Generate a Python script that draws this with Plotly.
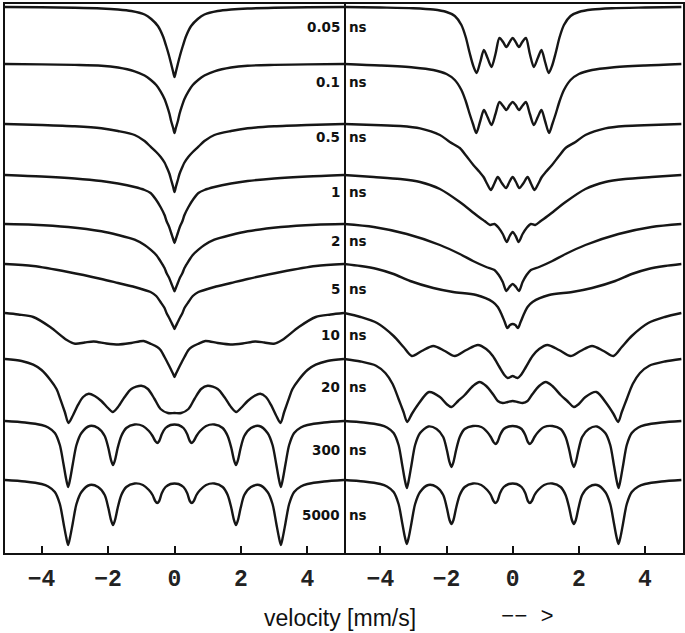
import plotly.graph_objects as go

# row labels (relaxation time) shared by both panels
TIMES = ["0.05", "0.1", "0.5", "1", "2", "5", "10", "20", "300", "5000"]
# baseline level of every row (arbitrary transmission units, stacked)
OFFSETS = [546, 489, 429, 378, 329, 289, 240, 194, 132, 73]
LABEL_Y = [526, 471, 416, 361, 312, 264, 218, 166, 103, 38]

# spectra are symmetric: velocity (mm/s) for v <= 0 and absorption depth
# ---- left panel ----
L_V = [
    [-5.1, -4, -3, -2.2, -1.7, -1.3, -0.9, -0.7, -0.5, -0.35, -0.25, -0.17, -0.1, -0.04, 0],
    [-5.1, -4, -3, -2.2, -1.7, -1.2, -0.9, -0.72, -0.55, -0.42, -0.3, -0.22, -0.15, -0.1, -0.04, 0],
    [-5.1, -4, -3, -2.2, -1.7, -1.2, -0.9, -0.72, -0.55, -0.42, -0.3, -0.22, -0.15, -0.1, -0.04, 0],
    [-5.1, -4, -3, -2.2, -1.7, -1.2, -0.9, -0.72, -0.57, -0.42, -0.3, -0.24, -0.16, -0.1, -0.04, 0],
    [-5.1, -4.25, -3.2, -2.2, -1.7, -1.2, -0.9, -0.72, -0.55, -0.42, -0.3, -0.24, -0.16, -0.1, -0.04, 0],
    [-5.1, -4.25, -3.2, -2.2, -1.7, -1.2, -0.9, -0.72, -0.55, -0.42, -0.3, -0.24, -0.16, -0.1, -0.04, 0],
    [-5.1, -4.7, -4.25, -3.74, -3.24, -2.99, -2.7, -2.43, -2.05, -1.68, -1.3, -0.93, -0.7, -0.52, -0.42,
     -0.3, -0.22, -0.1, -0.04, 0],
    [-5.1, -4.6, -4.25, -4.0, -3.74, -3.55, -3.43, -3.3, -3.19, -3.05, -2.9, -2.75, -2.58, -2.4, -2.2,
     -2.0, -1.86, -1.7, -1.5, -1.3, -1.0, -0.8, -0.6, -0.42, -0.2, 0],
    [-5.1, -4.5, -4.0, -3.8, -3.6, -3.45, -3.34, -3.26, -3.2, -3.14, -3.06, -2.95, -2.8, -2.55, -2.3,
     -2.1, -1.99, -1.91, -1.85, -1.79, -1.71, -1.6, -1.45, -1.2, -0.95, -0.77, -0.66, -0.58, -0.52,
     -0.46, -0.38, -0.27, -0.12, 0],
    [-5.1, -4.5, -4.0, -3.8, -3.6, -3.45, -3.34, -3.26, -3.2, -3.14, -3.06, -2.95, -2.8, -2.55, -2.3,
     -2.1, -1.99, -1.91, -1.85, -1.79, -1.71, -1.6, -1.45, -1.2, -0.95, -0.77, -0.66, -0.58, -0.52,
     -0.46, -0.38, -0.27, -0.12, 0],
]
L_D = [
    [0, 0.3, 0.8, 1.5, 2.5, 4, 7.5, 12, 19, 29, 39, 48, 57, 65, 70],
    [0, 0.4, 0.9, 1.7, 3.5, 7.3, 11.5, 15.7, 21, 27.3, 35, 42.3, 50, 57.3, 64, 69],
    [0, 1, 2.3, 4.3, 7, 11, 17, 22.7, 28, 32.7, 38.5, 44.3, 50, 56, 63, 68],
    [0, 1.5, 3.5, 6, 8.5, 12, 15, 18, 24, 32, 40, 46, 52, 58, 64, 68],
    [0, 0.7, 3, 7.3, 11, 15.7, 21, 25.7, 31, 37.3, 44, 49, 54, 59, 64, 67.3],
    [0, 2, 8, 15, 19, 23, 26, 28, 32, 38, 44, 49, 54, 58, 62, 65],
    [0, 1.5, 4, 14, 27, 30.7, 29.5, 28.5, 30.5, 31.5, 30, 28, 31, 34, 37, 44, 49, 57, 61, 64],
    [0, 2, 5.7, 11, 20.7, 30, 40.7, 53, 64, 56, 45.7, 38, 34.7, 37, 42, 49, 53, 48, 38, 30, 26.7, 30,
     40, 50, 54, 54],
    [0, 1.5, 4, 6.5, 12, 24, 43, 58, 66, 58, 43, 24, 12, 5, 7, 15, 27, 39, 44, 39, 27, 15, 7, 3.5, 5,
     10, 15, 20, 22, 20, 13, 7, 4, 3.5],
    [0, 1.5, 4, 6.5, 12, 24, 43, 57, 65, 57, 43, 24, 12, 5, 7, 15, 28, 40, 45, 40, 28, 15, 7, 3.5, 5,
     10, 15, 21, 23, 21, 13, 7, 4, 3.5],
]

# ---- right panel ----
R_V = [
    [-5.1, -4, -3, -2.4, -2.0, -1.75, -1.55, -1.42, -1.3, -1.2, -1.09, -0.98, -0.87, -0.76, -0.64,
     -0.52, -0.4, -0.29, -0.19, -0.09, 0],
    [-5.1, -4, -3, -2.4, -2.0, -1.75, -1.55, -1.42, -1.3, -1.2, -1.1, -0.98, -0.87, -0.76, -0.64,
     -0.52, -0.4, -0.29, -0.19, -0.09, 0],
    [-5.1, -4.2, -3.4, -2.8, -2.2, -1.9, -1.6, -1.4, -1.19, -1.0, -0.88, -0.77, -0.66, -0.56, -0.45,
     -0.33, -0.2, -0.1, 0],
    [-5.1, -4.2, -3.4, -2.8, -2.2, -1.6, -1.1, -0.85, -0.68, -0.55, -0.42, -0.3, -0.18, -0.09, 0],
    [-5.1, -4.2, -3.2, -2.2, -1.6, -1.2, -0.8, -0.55, -0.42, -0.3, -0.19, -0.1, 0],
    [-5.1, -4.6, -4.1, -3.6, -3.1, -2.4, -1.8, -1.1, -0.6, -0.45, -0.34, -0.24, -0.16, -0.08, 0],
    [-5.1, -4.6, -4.1, -3.6, -3.3, -3.05, -2.75, -2.4, -2.05, -1.75, -1.4, -1.05, -0.8, -0.6, -0.4,
     -0.25, -0.15, -0.07, 0],
    [-5.1, -4.6, -4.13, -3.85, -3.63, -3.45, -3.3, -3.19, -3.05, -2.85, -2.53, -2.2, -2.0, -1.85,
     -1.65, -1.45, -1.2, -1.0, -0.8, -0.6, -0.45, -0.3, -0.15, 0],
    L_V[8],
    L_V[9],
]
R_D = [
    [0, 0.5, 1.2, 2.5, 5, 9, 18, 30, 46, 58, 66, 55, 43, 51, 60, 47, 31, 35, 40, 35, 31],
    [0, 1.5, 3.5, 6, 10, 16, 26, 37, 50, 60, 69, 57, 46, 53, 61, 50, 38, 42, 46, 41, 38],
    [0, 1, 2, 4.3, 11, 18, 24, 32, 41, 48, 53, 60, 66, 60, 53, 59, 64, 58, 53],
    [0, 2, 4, 7, 14, 27, 40, 46, 50, 49, 53, 59, 67, 61, 57],
    [0, 3, 10, 21, 30, 37, 43, 46, 51, 58, 67, 63, 60],
    [0, 2, 5, 10, 17, 24, 28, 31, 38, 43, 50, 58, 64, 61, 60],
    [0, 4, 10, 23, 34, 43, 38, 33, 38, 43, 37, 32, 36, 43, 54, 62, 65, 64, 63],
    [0, 2.5, 6.7, 14, 25, 40, 53, 63, 55, 45, 33, 38, 45, 48, 42, 36, 27, 23, 27, 35, 42, 44, 43, 42],
    [0, 1.5, 4, 6.5, 12, 24, 44, 59, 67, 59, 44, 24, 12, 5.5, 8, 16, 29, 41, 46, 41, 29, 16, 8, 5, 6,
     11, 16, 21, 23, 21, 14, 8, 5.5, 5],
    [0, 1.5, 4, 6.5, 12, 24, 43, 57, 64, 57, 43, 24, 12, 5, 7, 15, 28, 40, 44, 40, 28, 15, 7, 3.5, 5,
     10, 15, 21, 23, 21, 13, 7, 4, 3.5],
]

LINE = "#161616"


def mirror(v, d):
    return v + [-x for x in v[-2::-1]], d + d[-2::-1]


fig = go.Figure()
for panel, (vs, ds) in enumerate([(L_V, L_D), (R_V, R_D)]):
    for off, v, d in zip(OFFSETS, vs, ds):
        xv, dv = mirror(v, d)
        fig.add_trace(go.Scatter(
            x=xv, y=[off - a for a in dv], mode="lines",
            line=dict(color=LINE, width=2.4, shape="spline", smoothing=0.8),
            xaxis="x" if panel == 0 else "x2", yaxis="y" if panel == 0 else "y2",
            showlegend=False, hoverinfo="skip",
        ))

axis_common = dict(
    showline=True, linecolor="#111", linewidth=2,
    showgrid=False, zeroline=False,
)
xcommon = dict(
    axis_common, mirror=True, tickvals=[-4, -2, 0, 2, 4], ticks="inside", ticklen=7, tickwidth=1.5,
    tickcolor="#111", ticklabelstandoff=3,
    tickfont=dict(family="Liberation Mono", size=23, color="#222", weight="bold"),
)
ycommon = dict(axis_common, range=[0, 549], showticklabels=False, ticks="")

label_font = dict(family="DejaVu Sans", size=13.5, color="#111", weight="bold")
annotations = []
for t, ly in zip(TIMES, LABEL_Y):
    annotations.append(dict(x=5.05, y=ly, xref="x", yref="y", text=t, showarrow=False,
                            xanchor="right", yanchor="middle", font=label_font))
    annotations.append(dict(x=-5.0, y=ly, xref="x2", yref="y2", text="ns", showarrow=False,
                            xanchor="left", yanchor="middle", font=label_font))
annotations.append(dict(x=0.494, y=-0.118, xref="paper", yref="paper", text="velocity [mm/s]",
                        showarrow=False, xanchor="center", yanchor="middle",
                        font=dict(family="Liberation Sans", size=23, color="#111")))
annotations.append(dict(x=0.771, y=-0.118, xref="paper", yref="paper", text="−− &gt;",
                        showarrow=False, xanchor="center", yanchor="middle",
                        font=dict(family="Liberation Mono", size=22, color="#111")))

fig.update_layout(
    width=685, height=633,
    margin=dict(l=5, r=2, t=4, b=80),
    paper_bgcolor="white", plot_bgcolor="white",
    xaxis=dict(xcommon, domain=[0, 0.5], range=[-5.1, 5.1]),
    xaxis2=dict(xcommon, domain=[0.5, 1], range=[-5.1, 5.15]),
    yaxis=dict(ycommon, mirror=True),
    yaxis2=dict(ycommon, anchor="x2", side="right", mirror=False),
    annotations=annotations,
)

fig.write_html("out.html", config={"displayModeBar": False},
               post_script="document.body.style.margin='0';")
